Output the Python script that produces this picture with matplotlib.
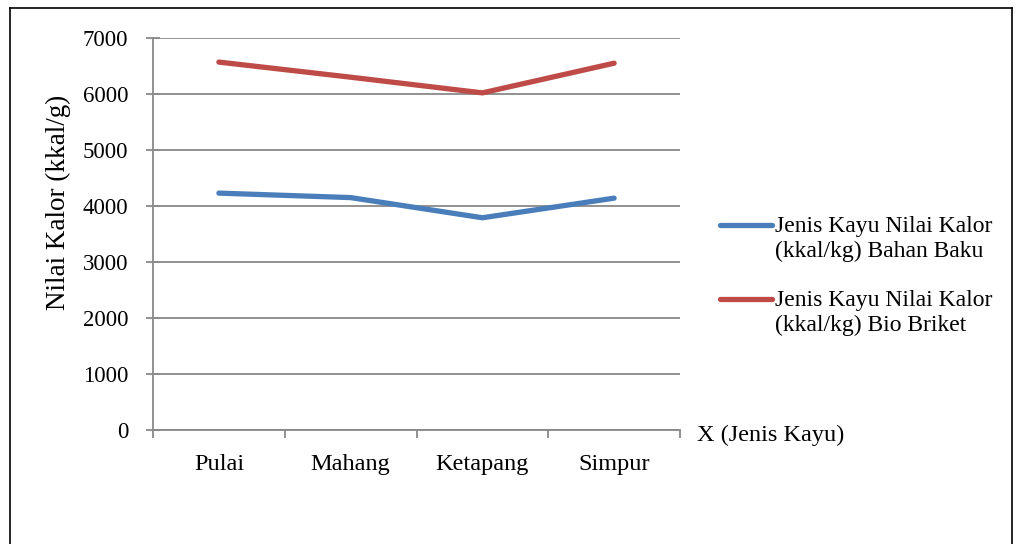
import matplotlib
matplotlib.use("Agg")
import matplotlib.pyplot as plt
from matplotlib.lines import Line2D

categories = ["Pulai", "Mahang", "Ketapang", "Simpur"]
bahan_baku = [4230, 4150, 3790, 4140]
bio_briket = [6570, 6300, 6020, 6550]
series_labels = ["Jenis Kayu Nilai Kalor\n(kkal/kg) Bahan Baku",
                 "Jenis Kayu Nilai Kalor\n(kkal/kg) Bio Briket"]
series_colors = ["#4a7ebb", "#be4b48"]
y_ticks = [0, 1000, 2000, 3000, 4000, 5000, 6000, 7000]

plt.rcParams['font.family'] = ['Liberation Serif', 'DejaVu Serif']
W, H = 1024, 544
fig = plt.figure(figsize=(W / 100, H / 100), dpi=100)
ax = fig.add_axes([153 / W, 1 - 430 / H, (680 - 153) / W, (430 - 38) / H])

grid_c = "#898989"
x = list(range(len(categories)))
for vals, col, lab in zip([bahan_baku, bio_briket], series_colors, series_labels):
    ax.plot(x, vals, color=col, lw=3.8, solid_capstyle="round", label=lab, zorder=3)

ax.set_xlim(-0.5, 3.5)
ax.set_ylim(0, 7000)
ax.set_yticks(y_ticks)
ax.set_yticklabels([str(v) for v in y_ticks], fontsize=16.5)
ax.yaxis.grid(True, color=grid_c, lw=1.3)
ax.set_axisbelow(True)

ax.set_xticks([-0.5, 0.5, 1.5, 2.5, 3.5])
ax.set_xticklabels([])
ax.set_xticks(x, minor=True)
ax.set_xticklabels(categories, minor=True, fontsize=17.5)
ax.tick_params(axis='x', which='minor', length=0, pad=17)
ax.tick_params(axis='x', which='major', length=6, width=1.3, color=grid_c, direction='out')
ax.tick_params(axis='y', length=10, width=1.3, color=grid_c, direction='inout', pad=13)

for s in ["top", "right"]:
    ax.spines[s].set_visible(False)
for s in ["left", "bottom"]:
    ax.spines[s].set_color(grid_c)
    ax.spines[s].set_linewidth(1.3)

fig.text(58 / W, 1 - 202 / H, "Nilai Kalor (kkal/g)", rotation=90, ha="center", va="center", fontsize=19.5)
fig.text(697 / W, 1 - 435 / H, "X (Jenis Kayu)", ha="left", va="center", fontsize=17.5)

# legend entries (handle aligned with first text line)
leg_y = [225, 299]
for yy, col, lab in zip(leg_y, series_colors, series_labels):
    fig.add_artist(Line2D([720 / W, 772 / W], [1 - yy / H, 1 - yy / H], color=col, lw=3.8,
                          solid_capstyle="round"))
    fig.text(775 / W, 1 - (yy - 9) / H, lab, ha="left", va="top", fontsize=17, linespacing=1.25)

# outer border
fig.add_artist(Line2D([10 / W, 10 / W], [0, 1 - 8 / H], color="black", lw=1.2))
fig.add_artist(Line2D([10 / W, 1012 / W], [1 - 8 / H, 1 - 8 / H], color="black", lw=1.2))
fig.add_artist(Line2D([1012 / W, 1012 / W], [0, 1 - 8 / H], color="black", lw=1.2))

fig.savefig("out.png", dpi=100, facecolor="white")
